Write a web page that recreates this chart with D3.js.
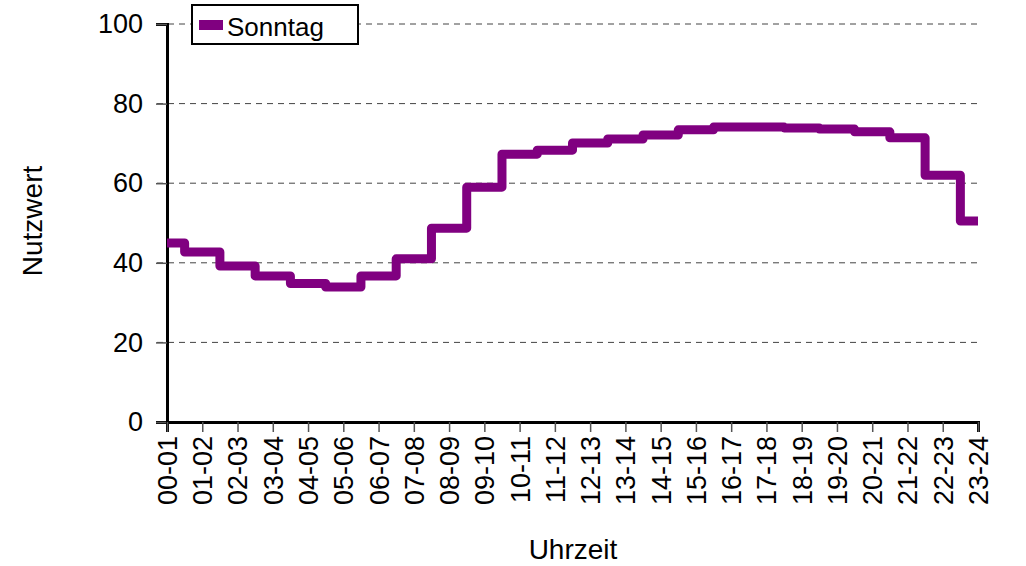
<!DOCTYPE html>
<html>
<head>
<meta charset="utf-8">
<style>
  body { margin: 0; background: #fff; }
  text { font-family: "Liberation Sans", Arial, sans-serif; fill: #000; }
</style>
</head>
<body>
<div id="chart"></div>
<script src="https://cdn.jsdelivr.net/npm/d3@7"></script>
<script>
    const hours = ["00-01","01-02","02-03","03-04","04-05","05-06","06-07","07-08","08-09","09-10","10-11","11-12",
                   "12-13","13-14","14-15","15-16","16-17","17-18","18-19","19-20","20-21","21-22","22-23","23-24"];
    const sonntag = [45, 42.7, 39.2, 36.7, 34.8, 33.9, 36.7, 41, 48.7, 59, 67.3, 68.3,
                     70.1, 71.1, 72.1, 73.4, 74.1, 74.1, 73.9, 73.6, 72.9, 71.4, 62, 50.5];
    const yTicks = [0, 20, 40, 60, 80, 100];

    const width = 1026, height = 566;
    const plotLeft = 167, plotRight = 978, plotTop = 24, plotBottom = 422;

    const svg = d3.select("#chart").append("svg")
        .attr("width", width)
        .attr("height", height);

    const x = d3.scalePoint().domain(hours).range([plotLeft, plotRight]);
    const y = d3.scaleLinear().domain([0, 100]).range([plotBottom, plotTop]);

    // gridlines
    svg.append("g")
        .selectAll("line")
        .data(yTicks.filter(d => d > 0))
        .join("line")
            .attr("x1", plotLeft - 10)
            .attr("x2", plotRight)
            .attr("y1", d => y(d))
            .attr("y2", d => y(d))
            .attr("stroke", "#444")
            .attr("stroke-width", 1)
            .attr("stroke-dasharray", "6,5");

    // y axis
    const yAxis = svg.append("g")
        .attr("transform", `translate(${plotLeft},0)`)
        .call(d3.axisLeft(y).tickValues(yTicks).tickSize(11).tickPadding(13));
    yAxis.select(".domain").attr("stroke", "#000").attr("stroke-width", 3);
    yAxis.selectAll(".tick line").attr("stroke", "#555").attr("stroke-width", 1.5);
    yAxis.selectAll("text").style("font-size", "27px").style("font-family", "Liberation Sans, Arial, sans-serif");

    // x axis
    const xAxis = svg.append("g")
        .attr("transform", `translate(0,${plotBottom})`)
        .call(d3.axisBottom(x).tickSize(10));
    xAxis.select(".domain").attr("stroke", "#000").attr("stroke-width", 3);
    xAxis.selectAll(".tick line").attr("stroke", "#555").attr("stroke-width", 1.5);
    xAxis.selectAll("text")
        .style("font-size", "27px")
        .style("font-family", "Liberation Sans, Arial, sans-serif")
        .attr("transform", "rotate(-90)")
        .attr("x", -14)
        .attr("y", 0)
        .attr("dy", "0.35em")
        .attr("text-anchor", "end");

    // step line
    const line = d3.line()
        .x((d, i) => x(hours[i]))
        .y(d => y(d))
        .curve(d3.curveStep);

    svg.append("path")
        .datum(sonntag)
        .attr("fill", "none")
        .attr("stroke", "#800080")
        .attr("stroke-width", 9)
        .attr("stroke-linejoin", "round")
        .attr("d", line);

    // axis titles
    svg.append("text")
        .attr("transform", `translate(42,221) rotate(-90)`)
        .attr("text-anchor", "middle")
        .style("font-size", "28px")
        .text("Nutzwert");

    svg.append("text")
        .attr("x", 573)
        .attr("y", 559)
        .attr("text-anchor", "middle")
        .style("font-size", "28px")
        .text("Uhrzeit");

    // legend
    const legend = svg.append("g");
    legend.append("rect")
        .attr("x", 192).attr("y", 5)
        .attr("width", 166).attr("height", 39)
        .attr("fill", "#fff")
        .attr("stroke", "#000")
        .attr("stroke-width", 2);
    legend.append("rect")
        .attr("x", 199).attr("y", 20)
        .attr("width", 24).attr("height", 10)
        .attr("fill", "#800080");
    legend.append("text")
        .attr("x", 227).attr("y", 36)
        .style("font-size", "26px")
        .text("Sonntag");
</script>
</body>
</html>
